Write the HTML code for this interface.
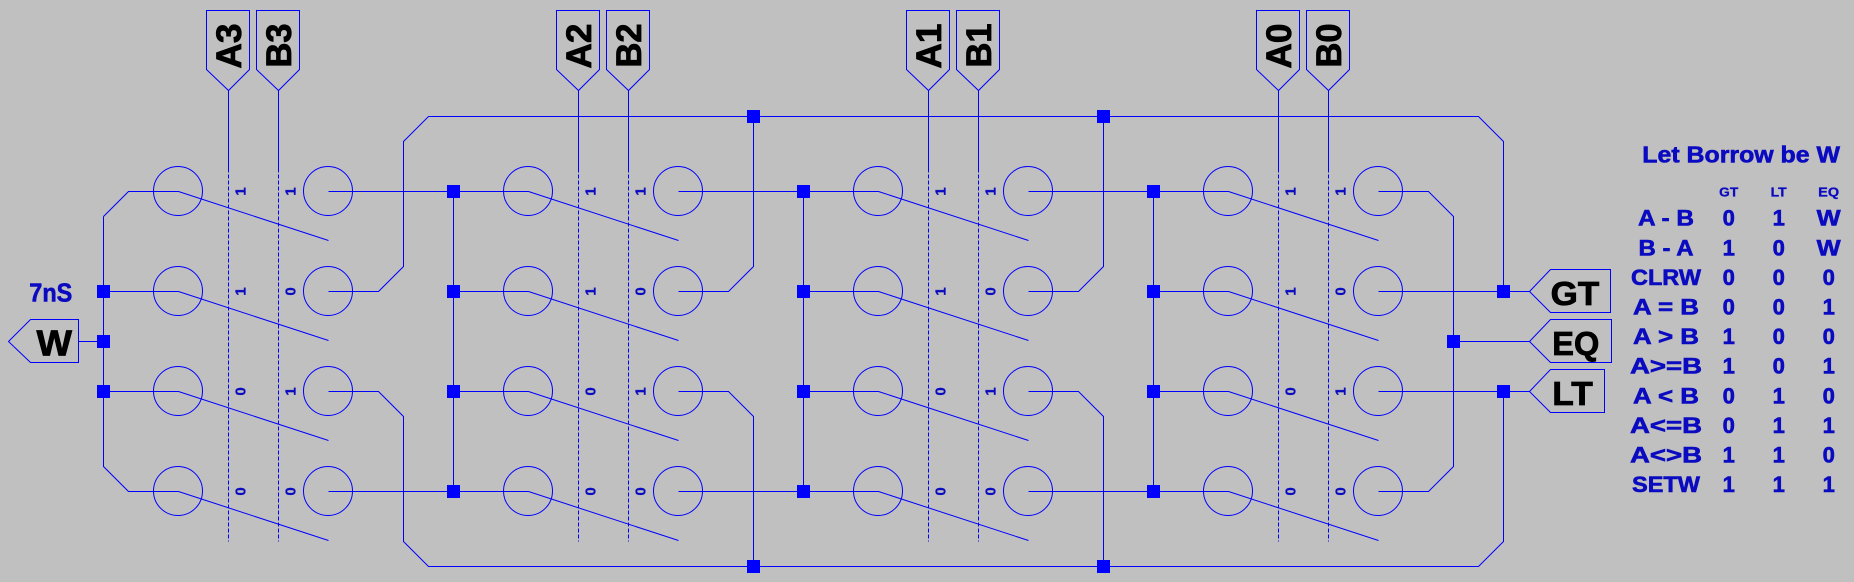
<!DOCTYPE html>
<html>
<head>
<meta charset="utf-8">
<style>
html,body{margin:0;padding:0;background:#c0c0c0;}
svg{display:block;}
text{font-family:"Liberation Sans",sans-serif;font-weight:bold;}
.w{fill:none;stroke:#0000ff;stroke-width:1;}
.j{fill:#0000ff;}
.s{fill:#0a0ac0;font-size:15px;text-anchor:middle;stroke:#0a0ac0;stroke-width:0.3;}
.t{fill:#0a0ac0;stroke:#0a0ac0;stroke-width:0.6;}
.k{fill:#000;stroke:#000;stroke-width:0.8;}
</style>
</head>
<body>
<svg width="1854" height="582" viewBox="0 0 1854 582" xmlns="http://www.w3.org/2000/svg">
<rect x="0" y="0" width="1854" height="582" fill="#c0c0c0"/>

<g class="w">
  <g>
    <circle cx="178" cy="191" r="24.5"/><circle cx="178" cy="291" r="24.5"/><circle cx="178" cy="391" r="24.5"/><circle cx="178" cy="491" r="24.5"/>
    <circle cx="328" cy="191" r="24.5"/><circle cx="328" cy="291" r="24.5"/><circle cx="328" cy="391" r="24.5"/><circle cx="328" cy="491" r="24.5"/>
    <path d="M178.5,191.5L328.5,240.5M178.5,291.5L328.5,340.5M178.5,391.5L328.5,440.5M178.5,491.5L328.5,540.5"/>
    <path d="M228.5,90.5V168.5M278.5,90.5V168.5"/>
    <path stroke-dasharray="4,2" d="M228.5,168.5V541.5M278.5,168.5V541.5"/>
    <path d="M206.5,10.5H249.5V69.5L228.5,90.5L206.5,69.5Z M256.5,10.5H299.5V69.5L278.5,90.5L256.5,69.5Z"/>
  </g>
  <g transform="translate(350,0)">
    <circle cx="178" cy="191" r="24.5"/><circle cx="178" cy="291" r="24.5"/><circle cx="178" cy="391" r="24.5"/><circle cx="178" cy="491" r="24.5"/>
    <circle cx="328" cy="191" r="24.5"/><circle cx="328" cy="291" r="24.5"/><circle cx="328" cy="391" r="24.5"/><circle cx="328" cy="491" r="24.5"/>
    <path d="M178.5,191.5L328.5,240.5M178.5,291.5L328.5,340.5M178.5,391.5L328.5,440.5M178.5,491.5L328.5,540.5"/>
    <path d="M228.5,90.5V168.5M278.5,90.5V168.5"/>
    <path stroke-dasharray="4,2" d="M228.5,168.5V541.5M278.5,168.5V541.5"/>
    <path d="M206.5,10.5H249.5V69.5L228.5,90.5L206.5,69.5Z M256.5,10.5H299.5V69.5L278.5,90.5L256.5,69.5Z"/>
  </g>
  <g transform="translate(700,0)">
    <circle cx="178" cy="191" r="24.5"/><circle cx="178" cy="291" r="24.5"/><circle cx="178" cy="391" r="24.5"/><circle cx="178" cy="491" r="24.5"/>
    <circle cx="328" cy="191" r="24.5"/><circle cx="328" cy="291" r="24.5"/><circle cx="328" cy="391" r="24.5"/><circle cx="328" cy="491" r="24.5"/>
    <path d="M178.5,191.5L328.5,240.5M178.5,291.5L328.5,340.5M178.5,391.5L328.5,440.5M178.5,491.5L328.5,540.5"/>
    <path d="M228.5,90.5V168.5M278.5,90.5V168.5"/>
    <path stroke-dasharray="4,2" d="M228.5,168.5V541.5M278.5,168.5V541.5"/>
    <path d="M206.5,10.5H249.5V69.5L228.5,90.5L206.5,69.5Z M256.5,10.5H299.5V69.5L278.5,90.5L256.5,69.5Z"/>
  </g>
  <g transform="translate(1050,0)">
    <circle cx="178" cy="191" r="24.5"/><circle cx="178" cy="291" r="24.5"/><circle cx="178" cy="391" r="24.5"/><circle cx="178" cy="491" r="24.5"/>
    <circle cx="328" cy="191" r="24.5"/><circle cx="328" cy="291" r="24.5"/><circle cx="328" cy="391" r="24.5"/><circle cx="328" cy="491" r="24.5"/>
    <path d="M178.5,191.5L328.5,240.5M178.5,291.5L328.5,340.5M178.5,391.5L328.5,440.5M178.5,491.5L328.5,540.5"/>
    <path d="M228.5,90.5V168.5M278.5,90.5V168.5"/>
    <path stroke-dasharray="4,2" d="M228.5,168.5V541.5M278.5,168.5V541.5"/>
    <path d="M206.5,10.5H249.5V69.5L228.5,90.5L206.5,69.5Z M256.5,10.5H299.5V69.5L278.5,90.5L256.5,69.5Z"/>
  </g>

  <path d="M103.5,216.5L128.5,191.5H178.5M103.5,216.5V466.5L128.5,491.5H178.5M103.5,291.5H178.5M103.5,391.5H178.5M78.5,341.5H103.5"/>
  <path d="M8.5,341.5L30.5,319.5H78.5V362.5H30.5Z"/>

  <path d="M328.5,191.5H528.5M328.5,491.5H528.5M453.5,291.5H528.5M453.5,391.5H528.5M453.5,191.5V491.5"/>
  <path d="M678.5,191.5H878.5M678.5,491.5H878.5M803.5,291.5H878.5M803.5,391.5H878.5M803.5,191.5V491.5"/>
  <path d="M1028.5,191.5H1228.5M1028.5,491.5H1228.5M1153.5,291.5H1228.5M1153.5,391.5H1228.5M1153.5,191.5V491.5"/>

  <path d="M328.5,291.5H378.5L403.5,266.5V141.5L428.5,116.5H1478.5L1503.5,141.5V291.5"/>
  <path d="M328.5,391.5H378.5L403.5,416.5V541.5L428.5,566.5H1478.5L1503.5,541.5V391.5"/>
  <path d="M678.5,291.5H728.5L753.5,266.5V116.5M678.5,391.5H728.5L753.5,416.5V566.5"/>
  <path d="M1028.5,291.5H1078.5L1103.5,266.5V116.5M1028.5,391.5H1078.5L1103.5,416.5V566.5"/>

  <path d="M1378.5,191.5H1428.5L1453.5,216.5V466.5L1428.5,491.5H1378.5"/>
  <path d="M1378.5,291.5H1529.5M1378.5,391.5H1529.5M1453.5,341.5H1529.5"/>

  <path d="M1529.5,291.5L1550.5,269.5H1610.5V312.5H1550.5Z"/>
  <path d="M1529.5,341.5L1550.5,319.5H1611.5V362.5H1550.5Z"/>
  <path d="M1529.5,391.5L1550.5,369.5H1604.5V412.5H1550.5Z"/>
</g>

<g class="j">
  <rect x="97" y="285" width="13" height="13"/><rect x="97" y="335" width="13" height="13"/><rect x="97" y="385" width="13" height="13"/>
  <rect x="447" y="185" width="13" height="13"/><rect x="447" y="285" width="13" height="13"/><rect x="447" y="385" width="13" height="13"/><rect x="447" y="485" width="13" height="13"/>
  <rect x="797" y="185" width="13" height="13"/><rect x="797" y="285" width="13" height="13"/><rect x="797" y="385" width="13" height="13"/><rect x="797" y="485" width="13" height="13"/>
  <rect x="1147" y="185" width="13" height="13"/><rect x="1147" y="285" width="13" height="13"/><rect x="1147" y="385" width="13" height="13"/><rect x="1147" y="485" width="13" height="13"/>
  <rect x="747" y="110" width="13" height="13"/><rect x="1097" y="110" width="13" height="13"/>
  <rect x="747" y="560" width="13" height="13"/><rect x="1097" y="560" width="13" height="13"/>
  <rect x="1497" y="285" width="13" height="13"/><rect x="1497" y="385" width="13" height="13"/><rect x="1447" y="335" width="13" height="13"/>
</g>

<g class="s">
  <text transform="translate(245.5,191.5) rotate(-90)">1</text>
  <text transform="translate(245.5,291.5) rotate(-90)">1</text>
  <text transform="translate(245.5,391.5) rotate(-90)">0</text>
  <text transform="translate(245.5,491.5) rotate(-90)">0</text>
  <text transform="translate(295.5,191.5) rotate(-90)">1</text>
  <text transform="translate(295.5,291.5) rotate(-90)">0</text>
  <text transform="translate(295.5,391.5) rotate(-90)">1</text>
  <text transform="translate(295.5,491.5) rotate(-90)">0</text>

  <text transform="translate(595.5,191.5) rotate(-90)">1</text>
  <text transform="translate(595.5,291.5) rotate(-90)">1</text>
  <text transform="translate(595.5,391.5) rotate(-90)">0</text>
  <text transform="translate(595.5,491.5) rotate(-90)">0</text>
  <text transform="translate(645.5,191.5) rotate(-90)">1</text>
  <text transform="translate(645.5,291.5) rotate(-90)">0</text>
  <text transform="translate(645.5,391.5) rotate(-90)">1</text>
  <text transform="translate(645.5,491.5) rotate(-90)">0</text>

  <text transform="translate(945.5,191.5) rotate(-90)">1</text>
  <text transform="translate(945.5,291.5) rotate(-90)">1</text>
  <text transform="translate(945.5,391.5) rotate(-90)">0</text>
  <text transform="translate(945.5,491.5) rotate(-90)">0</text>
  <text transform="translate(995.5,191.5) rotate(-90)">1</text>
  <text transform="translate(995.5,291.5) rotate(-90)">0</text>
  <text transform="translate(995.5,391.5) rotate(-90)">1</text>
  <text transform="translate(995.5,491.5) rotate(-90)">0</text>

  <text transform="translate(1295.5,191.5) rotate(-90)">1</text>
  <text transform="translate(1295.5,291.5) rotate(-90)">1</text>
  <text transform="translate(1295.5,391.5) rotate(-90)">0</text>
  <text transform="translate(1295.5,491.5) rotate(-90)">0</text>
  <text transform="translate(1345.5,191.5) rotate(-90)">1</text>
  <text transform="translate(1345.5,291.5) rotate(-90)">0</text>
  <text transform="translate(1345.5,391.5) rotate(-90)">1</text>
  <text transform="translate(1345.5,491.5) rotate(-90)">0</text>
</g>

<g class="k" font-size="35">
  <text transform="translate(241,68.5) rotate(-90)" textLength="45" lengthAdjust="spacingAndGlyphs">A3</text>
  <text transform="translate(291,67.5) rotate(-90)" textLength="44" lengthAdjust="spacingAndGlyphs">B3</text>
  <text transform="translate(591,68.5) rotate(-90)" textLength="45" lengthAdjust="spacingAndGlyphs">A2</text>
  <text transform="translate(641,67.5) rotate(-90)" textLength="44" lengthAdjust="spacingAndGlyphs">B2</text>
  <text transform="translate(941,68.5) rotate(-90)" textLength="45" lengthAdjust="spacingAndGlyphs">A1</text>
  <text transform="translate(991,67.5) rotate(-90)" textLength="44" lengthAdjust="spacingAndGlyphs">B1</text>
  <text transform="translate(1291,68.5) rotate(-90)" textLength="45" lengthAdjust="spacingAndGlyphs">A0</text>
  <text transform="translate(1341,67.5) rotate(-90)" textLength="44" lengthAdjust="spacingAndGlyphs">B0</text>
</g>

<text class="k" x="36.5" y="355.7" font-size="36" textLength="35.5" lengthAdjust="spacingAndGlyphs">W</text>
<text class="k" x="1550.7" y="305" font-size="33" textLength="48.6" lengthAdjust="spacingAndGlyphs">GT</text>
<text class="k" x="1552.3" y="355" font-size="33" textLength="47" lengthAdjust="spacingAndGlyphs">EQ</text>
<text class="k" x="1552.3" y="405" font-size="33" textLength="40.5" lengthAdjust="spacingAndGlyphs">LT</text>

<text class="t" x="29.3" y="301.7" font-size="26" textLength="43" lengthAdjust="spacingAndGlyphs">7nS</text>

<g class="t">
  <text x="1642.3" y="162.7" font-size="23" textLength="197.7" lengthAdjust="spacingAndGlyphs">Let Borrow be W</text>
  <g font-size="13" text-anchor="middle" stroke-width="0.3">
    <text x="1728.7" y="196.7" textLength="19" lengthAdjust="spacingAndGlyphs">GT</text>
    <text x="1778.7" y="196.7" textLength="16" lengthAdjust="spacingAndGlyphs">LT</text>
    <text x="1828.7" y="196.7" textLength="21" lengthAdjust="spacingAndGlyphs">EQ</text>
  </g>
  <g font-size="22" text-anchor="middle">
    <text x="1666" y="225.7" textLength="56" lengthAdjust="spacingAndGlyphs">A - B</text>
    <text x="1666" y="255.3" textLength="55" lengthAdjust="spacingAndGlyphs">B - A</text>
    <text x="1666" y="284.9" textLength="70" lengthAdjust="spacingAndGlyphs">CLRW</text>
    <text x="1666" y="314.5" textLength="66" lengthAdjust="spacingAndGlyphs">A = B</text>
    <text x="1666" y="344.1" textLength="66" lengthAdjust="spacingAndGlyphs">A &gt; B</text>
    <text x="1666" y="373.7" textLength="72" lengthAdjust="spacingAndGlyphs">A&gt;=B</text>
    <text x="1666" y="403.3" textLength="66" lengthAdjust="spacingAndGlyphs">A &lt; B</text>
    <text x="1666" y="432.9" textLength="72" lengthAdjust="spacingAndGlyphs">A&lt;=B</text>
    <text x="1666" y="462.5" textLength="72" lengthAdjust="spacingAndGlyphs">A&lt;&gt;B</text>
    <text x="1666" y="492.1" textLength="68" lengthAdjust="spacingAndGlyphs">SETW</text>

    <text x="1728.7" y="225.7">0</text><text x="1778.7" y="225.7">1</text><text x="1828.7" y="225.7" textLength="24" lengthAdjust="spacingAndGlyphs">W</text>
    <text x="1728.7" y="255.3">1</text><text x="1778.7" y="255.3">0</text><text x="1828.7" y="255.3" textLength="24" lengthAdjust="spacingAndGlyphs">W</text>
    <text x="1728.7" y="284.9">0</text><text x="1778.7" y="284.9">0</text><text x="1828.7" y="284.9">0</text>
    <text x="1728.7" y="314.5">0</text><text x="1778.7" y="314.5">0</text><text x="1828.7" y="314.5">1</text>
    <text x="1728.7" y="344.1">1</text><text x="1778.7" y="344.1">0</text><text x="1828.7" y="344.1">0</text>
    <text x="1728.7" y="373.7">1</text><text x="1778.7" y="373.7">0</text><text x="1828.7" y="373.7">1</text>
    <text x="1728.7" y="403.3">0</text><text x="1778.7" y="403.3">1</text><text x="1828.7" y="403.3">0</text>
    <text x="1728.7" y="432.9">0</text><text x="1778.7" y="432.9">1</text><text x="1828.7" y="432.9">1</text>
    <text x="1728.7" y="462.5">1</text><text x="1778.7" y="462.5">1</text><text x="1828.7" y="462.5">0</text>
    <text x="1728.7" y="492.1">1</text><text x="1778.7" y="492.1">1</text><text x="1828.7" y="492.1">1</text>
  </g>
</g>
</svg>
</body>
</html>
